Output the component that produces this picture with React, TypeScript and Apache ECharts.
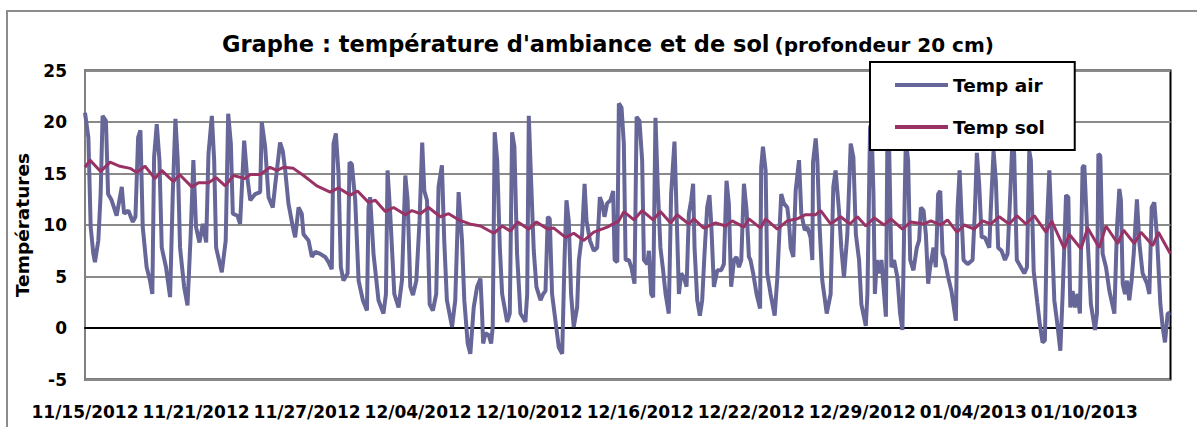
import React, { useEffect, useRef } from "react";
import * as echarts from "echarts";

// Time axis: days elapsed since 11/15/2012 06:00
const startUTC = Date.UTC(2012, 10, 15, 6);
const labelStepDays = 6.25;
const xMaxDays = 61.1;

const yMin = -5;
const yMax = 25;
const yStep = 5;

const seriesNames = ["Temp air", "Temp sol"];

const airDays = [
  0, 0.19, 0.32, 0.47, 0.56, 0.75, 0.88, 0.99, 1.18, 1.3, 1.5, 1.78, 2.07, 2.2, 2.44, 2.69, 2.84, 2.99, 3.12, 3.25,
  3.47, 3.66, 3.79, 3.89, 4.04, 4.19, 4.32, 4.56, 4.79, 4.94, 5.09, 5.22, 5.35, 5.58, 5.77, 5.95, 6.1, 6.25, 6.44, 6.63,
  6.82, 6.95, 7.14, 7.27, 7.38, 7.7, 7.92, 8.06, 8.21, 8.32, 8.58, 8.73, 8.96, 9.11, 9.3, 9.58, 9.86, 9.95, 10.14, 10.33,
  10.57, 10.7, 10.98, 11.13, 11.27, 11.45, 11.7, 11.83, 12.02, 12.2, 12.3, 12.58, 12.77, 12.96, 13.24, 13.52, 13.71, 13.89, 13.99, 14.12,
  14.27, 14.4, 14.55, 14.78, 14.89, 15.02, 15.21, 15.4, 15.64, 15.87, 15.96, 16.05, 16.24, 16.52, 16.8, 16.94, 17.03, 17.18, 17.41, 17.65,
  17.84, 18.03, 18.16, 18.31, 18.46, 18.65, 18.83, 18.98, 19.1, 19.25, 19.4, 19.58, 19.77, 19.9, 20.09, 20.22, 20.37, 20.66, 20.84, 21.03,
  21.22, 21.35, 21.54, 21.69, 21.88, 22.07, 22.26, 22.35, 22.41, 22.54, 22.73, 22.86, 22.95, 23.06, 23.2, 23.35, 23.48, 23.76, 23.91, 24.04,
  24.17, 24.32, 24.51, 24.79, 24.89, 24.98, 25.11, 25.26, 25.41, 25.64, 25.79, 25.92, 26.05, 26.16, 26.29, 26.48, 26.67, 26.86, 26.99, 27.1,
  27.23, 27.36, 27.51, 27.7, 27.8, 27.98, 28.12, 28.23, 28.42, 28.64, 28.83, 28.98, 29.11, 29.24, 29.39, 29.58, 29.73, 29.81, 29.96, 30.05,
  30.2, 30.33, 30.43, 30.61, 30.75, 30.93, 31.05, 31.21, 31.36, 31.46, 31.65, 31.74, 31.87, 31.98, 32.11, 32.24, 32.39, 32.54, 32.68, 32.86,
  32.99, 33.18, 33.29, 33.43, 33.56, 33.71, 33.86, 33.99, 34.12, 34.23, 34.31, 34.46, 34.61, 34.74, 34.87, 35.02, 35.15, 35.25, 35.4, 35.59,
  35.81, 35.96, 36.11, 36.24, 36.37, 36.53, 36.67, 36.81, 36.94, 37.09, 37.24, 37.37, 37.46, 37.61, 37.8, 38.0, 38.06, 38.16, 38.31, 38.4,
  38.59, 38.82, 38.97, 39.1, 39.19, 39.34, 39.53, 39.62, 39.72, 39.87, 40.0, 40.19, 40.32, 40.51, 40.66, 40.84, 40.94, 40.98, 41.13, 41.22,
  41.35, 41.5, 41.75, 41.97, 42.12, 42.25, 42.44, 42.57, 42.72, 42.91, 43.1, 43.25, 43.39, 43.57, 43.7, 43.95, 44.04, 44.19, 44.27, 44.38,
  44.46, 44.57, 44.7, 44.83, 44.98, 45.08, 45.17, 45.26, 45.39, 45.54, 45.73, 45.88, 46.01, 46.11, 46.2, 46.33, 46.45, 46.63, 46.82, 46.95,
  47.05, 47.2, 47.33, 47.46, 47.57, 47.76, 47.89, 48.02, 48.14, 48.27, 48.4, 48.59, 48.77, 49.02, 49.11, 49.23, 49.34, 49.45, 49.68, 49.96,
  50.09, 50.2, 50.33, 50.47, 50.65, 50.9, 50.99, 51.14, 51.27, 51.4, 51.59, 51.78, 51.93, 52.08, 52.21, 52.3, 52.45, 52.68, 52.87, 53.02,
  53.15, 53.24, 53.4, 53.6, 53.75, 53.9, 54.03, 54.14, 54.28, 54.41, 54.56, 54.75, 54.9, 55.03, 55.22, 55.35, 55.46, 55.59, 55.72, 55.87,
  56.0, 56.15, 56.25, 56.4, 56.62, 56.85, 56.96, 57.04, 57.15, 57.28, 57.47, 57.66, 57.94, 58.09, 58.22, 58.31, 58.41, 58.54, 58.65, 58.78,
  58.91, 59.03, 59.21, 59.35, 59.53, 59.78, 59.91, 60.04, 60.19, 60.34, 60.53, 60.66, 60.79, 60.94, 61.09,
];

const airTemps = [
  20.9, 18.5, 9.8, 7.2, 6.4, 8.5, 13.0, 20.6, 20.1, 13.0, 12.4, 10.9, 13.7, 11.1, 11.4, 10.3, 10.8, 18.5, 19.2, 9.8,
  5.9, 4.6, 3.3, 16.6, 19.8, 16.3, 7.8, 5.9, 3.0, 13.0, 20.3, 16.3, 7.8, 4.0, 2.2, 9.1, 16.3, 9.8, 8.3, 10.1,
  8.3, 16.9, 20.6, 16.3, 7.8, 5.4, 8.5, 20.8, 17.9, 11.1, 10.9, 10.1, 18.2, 15.0, 12.4, 13.0, 13.2, 20.0, 17.6, 12.7,
  11.7, 13.8, 18.0, 17.2, 15.3, 12.1, 9.8, 8.8, 11.7, 11.1, 9.1, 8.5, 6.9, 7.4, 7.2, 6.9, 6.4, 5.7, 17.9, 18.9,
  15.0, 5.9, 4.6, 5.3, 16.1, 15.9, 12.4, 4.6, 2.7, 1.7, 11.7, 12.7, 7.2, 2.7, 1.4, 3.3, 15.3, 11.1, 3.3, 2.0,
  4.6, 14.8, 12.4, 4.0, 3.2, 4.6, 10.4, 18.0, 13.3, 12.4, 2.3, 1.7, 3.3, 13.7, 15.8, 8.5, 2.7, 0.1, 2.7, 13.2,
  8.5, 2.7, -1.5, -2.5, 2.0, 4.0, 4.8, 1.4, -1.5, -0.5, -0.7, -1.5, 0.1, 19.0, 16.3, 7.8, 3.3, 0.6, 1.4, 19.0,
  17.6, 7.2, 1.4, 0.6, 3.3, 20.6, 14.3, 7.5, 4.0, 2.7, 3.3, 3.6, 10.8, 10.6, 3.3, 0.7, -1.9, -2.5, 6.6, 12.4,
  10.4, 3.3, 0.1, 2.0, 6.6, 9.1, 14.0, 10.4, 8.5, 7.5, 7.8, 12.7, 12.1, 10.8, 12.1, 12.4, 13.3, 6.6, 6.4, 21.8,
  21.4, 17.9, 6.6, 6.6, 5.9, 4.3, 20.5, 20.1, 16.3, 6.6, 6.2, 7.5, 3.3, 3.0, 20.4, 13.7, 7.8, 5.6, 3.3, 1.4,
  13.0, 18.1, 11.7, 3.3, 5.3, 4.9, 4.0, 11.1, 12.4, 14.0, 7.8, 2.7, 1.2, 2.7, 7.2, 11.7, 12.9, 10.1, 4.0, 5.6,
  5.6, 6.2, 14.3, 12.1, 4.0, 6.6, 6.9, 5.9, 6.6, 14.0, 11.4, 6.9, 6.6, 5.3, 3.3, 1.9, 15.6, 17.6, 15.3, 5.3,
  3.3, 1.2, 4.9, 9.8, 13.0, 12.1, 11.7, 10.4, 7.8, 6.9, 13.3, 16.3, 11.1, 9.5, 9.8, 8.8, 6.6, 16.1, 18.4, 16.3,
  9.8, 4.6, 1.4, 3.3, 13.7, 15.3, 11.4, 7.8, 4.9, 9.1, 17.9, 16.6, 9.1, 6.6, 2.3, 0.2, 3.3, 19.5, 19.8, 13.0,
  3.3, 6.6, 5.3, 6.6, 3.3, 1.1, 19.5, 17.9, 5.9, 6.6, 4.9, 1.4, -0.2, 9.8, 18.2, 16.3, 6.6, 5.6, 7.8, 8.5,
  11.7, 11.4, 9.1, 4.3, 5.9, 7.8, 5.9, 13.0, 13.3, 7.2, 6.6, 4.9, 3.6, 0.7, 11.4, 15.3, 10.8, 6.6, 6.2, 6.6,
  11.4, 17.0, 14.0, 8.8, 8.8, 7.8, 11.7, 17.2, 14.3, 7.8, 7.5, 6.6, 7.2, 13.0, 18.5, 16.9, 6.6, 5.9, 5.3, 5.9,
  17.2, 16.3, 5.5, 2.5, 0.3, -1.4, -1.2, 9.8, 15.3, 9.8, 2.7, 0.1, -2.2, 3.3, 12.9, 12.7, 2.0, 3.6, 2.0, 3.3,
  1.4, 15.6, 15.8, 9.8, 2.3, -0.2, 1.4, 16.9, 16.7, 7.2, 5.9, 3.6, 1.4, 9.8, 13.5, 12.4, 4.3, 3.3, 4.6, 2.7,
  4.6, 7.2, 12.5, 8.2, 5.3, 4.3, 3.3, 11.7, 12.2, 8.8, 2.3, 0.1, -1.4, 1.4, 1.5,
];

const solDays = [
  0, 0.28, 0.88, 1.41, 1.97, 2.54, 2.91, 3.38, 3.94, 4.32, 4.98, 5.32, 6.01, 6.39, 6.95, 7.38, 7.89, 8.36, 9.01, 9.3,
  9.86, 10.42, 10.8, 11.17, 11.73, 12.3, 13.05, 13.8, 14.27, 14.93, 15.34, 15.96, 16.34, 16.9, 17.37, 18.03, 18.4, 18.87, 19.34, 20.0,
  20.47, 21.03, 21.65, 22.26, 23.01, 23.48, 23.95, 24.36, 24.98, 25.41, 26.05, 26.39, 27.05, 27.51, 28.08, 28.64, 29.39, 30.05, 30.33, 30.9,
  31.36, 31.98, 32.39, 32.96, 33.33, 33.99, 34.27, 34.83, 35.49, 36.06, 36.43, 37.09, 37.37, 38.03, 38.31, 38.97, 39.53, 40.09, 40.56, 41.13,
  41.41, 41.97, 42.53, 43.06, 43.48, 43.95, 44.42, 44.98, 45.36, 46.01, 46.48, 47.23, 47.61, 48.17, 48.55, 49.08, 49.49, 50.05, 50.52, 50.99,
  51.46, 52.02, 52.46, 52.96, 53.43, 54.09, 54.41, 55.12, 55.4, 56.06, 56.44, 57.09, 57.47, 58.13, 58.46, 59.06, 59.44, 60.1, 60.42, 61.09,
];

const solTemps = [
  15.6, 16.3, 15.2, 16.1, 15.7, 15.5, 15.1, 15.7, 14.5, 15.3, 14.2, 14.9, 13.7, 14.1, 14.1, 14.6, 13.8, 14.8, 14.5, 14.9,
  14.9, 15.6, 15.3, 15.6, 15.5, 14.8, 13.8, 13.2, 13.6, 12.9, 13.3, 12.2, 12.4, 11.3, 11.7, 11.0, 11.4, 11.1, 11.7, 10.8,
  11.1, 10.5, 10.1, 9.9, 9.2, 9.9, 9.4, 10.3, 9.6, 10.3, 9.6, 9.7, 8.8, 9.2, 8.5, 9.3, 9.8, 10.4, 11.3, 10.5,
  11.4, 10.5, 11.3, 10.2, 11.0, 10.1, 10.6, 9.7, 10.2, 9.9, 10.4, 9.8, 10.6, 9.7, 10.6, 9.6, 10.4, 10.6, 11.0, 11.0,
  11.4, 10.1, 10.8, 10.1, 10.8, 9.9, 10.7, 10.0, 10.6, 9.6, 10.3, 10.1, 10.4, 10.0, 10.5, 9.3, 10.0, 9.6, 10.4, 10.1,
  10.8, 10.1, 10.9, 10.1, 10.9, 9.3, 10.4, 7.7, 9.1, 7.7, 9.7, 7.8, 9.9, 8.2, 9.5, 8.2, 9.3, 8.0, 9.3, 7.2,
];

const FONT = "DejaVu Sans";

function pad2(n: number): string {
  return n < 10 ? "0" + n : String(n);
}

function dayLabel(v: number): string {
  const d = new Date(startUTC + v * 86400000);
  return pad2(d.getUTCMonth() + 1) + "/" + pad2(d.getUTCDate()) + "/" + d.getUTCFullYear();
}

function zip(xs: number[], ys: number[]): number[][] {
  return xs.map((x, i) => [x, ys[i]]);
}

export default function App() {
  const ref = useRef<HTMLDivElement>(null);

  useEffect(() => {
    document.body.style.margin = "0";
    if (!ref.current) return;
    const chart = echarts.init(ref.current, undefined, { renderer: "svg" });
    chart.setOption({
      animation: false,
      backgroundColor: "#ffffff",
      title: {
        text: "{a|Graphe : température d'ambiance et de sol} {b|(profondeur 20 cm)}",
        left: 222,
        top: 31,
        padding: 0,
        textStyle: {
          rich: {
            a: { fontFamily: FONT, fontSize: 22.5, fontWeight: "bold", color: "#000", verticalAlign: "bottom", lineHeight: 24 },
            b: { fontFamily: FONT, fontSize: 20, fontWeight: "bold", color: "#000", verticalAlign: "bottom", lineHeight: 24 },
          },
        },
      },
      legend: {
        orient: "vertical",
        left: 870,
        top: 62,
        icon: "rect",
        itemWidth: 53,
        itemHeight: 4,
        itemGap: 22,
        padding: [13, 30, 13, 25],
        borderColor: "#000",
        borderWidth: 2,
        backgroundColor: "#ffffff",
        textStyle: { fontFamily: FONT, fontSize: 18.5, fontWeight: "bold", color: "#000", lineHeight: 20 },
        data: seriesNames,
      },
      graphic: [
        {
          type: "rect",
          silent: true,
          z: -10,
          shape: { x: 7, y: 11, width: 1260, height: 500 },
          style: { fill: "none", stroke: "#8c8c8c", lineWidth: 2 },
        },
      ],
      grid: {
        left: 85,
        right: 26.5,
        top: 70.5,
        bottom: 47.5,
        show: true,
        borderColor: "#000",
        borderWidth: 2,
        backgroundColor: "transparent",
      },
      xAxis: {
        type: "value",
        min: 0,
        max: xMaxDays,
        interval: labelStepDays,
        axisLine: { show: true, lineStyle: { color: "#000", width: 2 } },
        axisTick: { show: false },
        splitLine: { show: false },
        axisLabel: {
          formatter: (v: number) => dayLabel(v),
          showMaxLabel: false,
          margin: 24,
          fontFamily: FONT,
          fontSize: 17,
          fontWeight: "bold",
          color: "#000",
        },
      },
      yAxis: {
        type: "value",
        min: yMin,
        max: yMax,
        interval: yStep,
        name: "Températures",
        nameLocation: "middle",
        nameGap: 45,
        nameTextStyle: { fontFamily: FONT, fontSize: 18.5, fontWeight: "bold", color: "#000" },
        axisLine: { show: true, lineStyle: { color: "#808080", width: 2 } },
        axisTick: { show: false },
        splitLine: { show: true, lineStyle: { color: "#8a8a8a", width: 2 } },
        axisLabel: { margin: 18, fontFamily: FONT, fontSize: 17, fontWeight: "bold", color: "#000" },
      },
      series: [
        {
          name: seriesNames[0],
          type: "line",
          showSymbol: false,
          symbol: "none",
          data: zip(airDays, airTemps),
          lineStyle: { color: "#666699", width: 4 },
          itemStyle: { color: "#666699" },
          z: 2,
        },
        {
          name: seriesNames[1],
          type: "line",
          showSymbol: false,
          symbol: "none",
          data: zip(solDays, solTemps),
          lineStyle: { color: "#993366", width: 3 },
          itemStyle: { color: "#993366" },
          z: 3,
        },
      ],
    });
    return () => chart.dispose();
  }, []);

  return <div ref={ref} style={{ width: 1197, height: 427 }} />;
}
